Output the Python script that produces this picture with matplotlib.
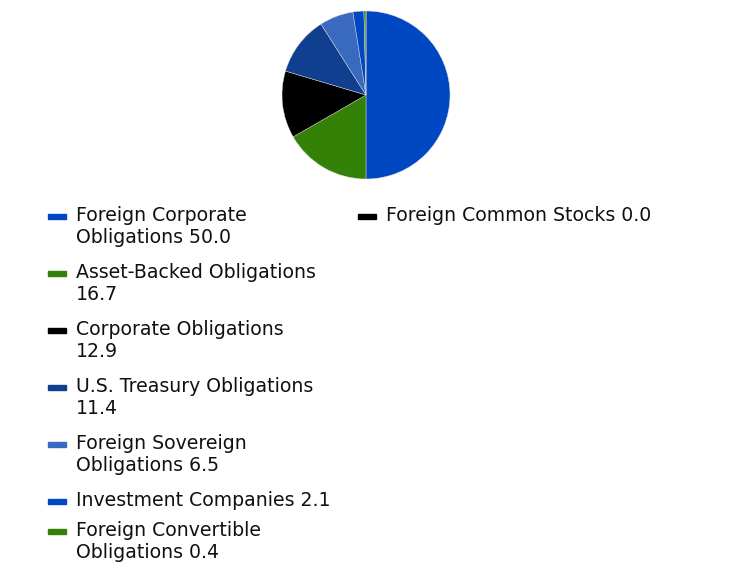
import matplotlib
matplotlib.use("Agg")
import matplotlib.pyplot as plt
from matplotlib.patches import Rectangle

# =========================
# DATA
# =========================
categories = [
    "Foreign Corporate\nObligations",
    "Asset-Backed Obligations\n",
    "Corporate Obligations\n",
    "U.S. Treasury Obligations\n",
    "Foreign Sovereign\nObligations",
    "Investment Companies",
    "Foreign Convertible\nObligations",
    "Foreign Common Stocks",
]
values = [50.0, 16.7, 12.9, 11.4, 6.5, 2.1, 0.4, 0.0]
colors = ["#0047C2", "#338106", "#000000", "#113F8F", "#3A6AC0", "#0047C2", "#338106", "#000000"]

W, H = 732, 564
fig = plt.figure(figsize=(W / 100, H / 100), dpi=100)

# =========================
# PIE
# =========================
cx, cy, r = 366, 95, 84
ax = fig.add_axes([(cx - r) / W, 1 - (cy + r) / H, 2 * r / W, 2 * r / H])
ax.pie(values, colors=colors, startangle=90, counterclock=False,
       wedgeprops=dict(linewidth=0.3, edgecolor="#dddddd"))
ax.set_xlim(-1, 1)
ax.set_ylim(-1, 1)
ax.set_aspect("equal")
ax.axis("off")

# =========================
# LEGEND (manual, column-major)
# =========================
def label_for(cat, v):
    # value goes on the last line, or on its own line
    if cat.endswith("\n"):
        return cat + f"{v:.1f}"
    return cat + f" {v:.1f}"

line_h = 22
fs = 13.6
col_items = [range(0, 7), range(7, 8)]
col_x = [48, 358]
for ci, idxs in enumerate(col_items):
    y = 216
    x0 = col_x[ci]
    for i in idxs:
        txt = label_for(categories[i], values[i])
        nlines = txt.count("\n") + 1
        fig.patches.append(Rectangle((x0 / W, 1 - (y + 3) / H), 18 / W, 5 / H,
                                     transform=fig.transFigure, color=colors[i]))
        fig.text((x0 + 28) / W, 1 - (y - 10) / H, txt, fontsize=fs, va="top",
                 ha="left", color="#111111", linespacing=1.17,
                 family="DejaVu Sans")
        y += nlines * line_h + (13 if nlines > 1 else 8)

fig.savefig("out.png", dpi=100)
